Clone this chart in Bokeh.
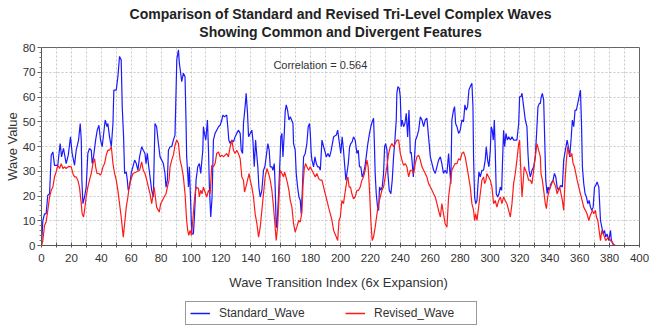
from bokeh.plotting import figure
from bokeh.layouts import column
from bokeh.models import Range1d, FixedTicker, Legend, LegendItem, Label
from bokeh.embed import file_html
from bokeh.resources import INLINE

# ---------------- data ----------------
std_index = [
    0, 0.9, 2, 3.1, 4.2, 5.4, 6.5, 7.6, 8.7, 10.9, 11.6, 12.5, 13.4, 14.7, 16.5, 17.9, 19.4, 20.5, 22.1, 23.2,
    24.8, 25.9, 26.6, 27, 27.7, 28.8, 29.9, 31, 32.1, 33.3, 33.9, 34.8, 36.2, 37.3, 38.4, 39.5, 40.6, 42.6, 43.8, 44.4,
    45.5, 46.7, 47.8, 48.4, 50, 51.1, 52.2, 53.3, 54, 54.9, 55.6, 56.7, 57.4, 58, 58.9, 60, 62.3, 63.4, 64.5, 65.6,
    67, 68.1, 69.2, 69.9, 70.8, 71.5, 72.6, 73.7, 74.8, 75.9, 77, 78.2, 79.3, 80.4, 81.5, 82.6, 83.3, 84.2, 84.9, 86,
    87.1, 88.2, 89.3, 90.5, 91.6, 92.2, 93.1, 93.8, 94.9, 96, 96.7, 97.1, 97.8, 98.3, 98.9, 99.8, 100.5, 101.6, 102.3, 103.4,
    104.5, 105.6, 106.5, 107.9, 108.3, 109, 109.9, 111, 111.7, 112.3, 113.2, 114.1, 115, 116.1, 117.2, 118.4, 119.5, 120.6, 121.3, 122.4,
    123.9, 124.6, 125.3, 126.2, 127.3, 128.4, 129.5, 130.6, 131.7, 132.9,
    133.6, 134.5, 135.1, 136.2, 136.9, 137.8, 138.5, 139.6, 140.7, 141.4, 142.3, 143.2, 144.1, 144.7, 145.4, 146.3, 147.4, 148.5, 149.4, 150.3,
    151.4, 152.3, 153, 154.1, 154.8, 155.7, 156.3, 157, 157.5, 158.6, 159.7, 160.1, 160.8, 161.5, 162.4, 163, 163.7, 164.6, 165.5, 166.4,
    167.3, 168.2, 168.6, 169.7, 170.4, 171.3, 172.2, 173.1, 173.7, 174.4, 175.3, 176.4, 177.5, 178.4, 179.3, 179.8, 180.4, 180.9, 182, 182.9,
    183.8, 184.7, 185.6, 186.5, 187.6, 188.7, 189.4, 190.5, 191.6, 192.7, 193.8, 195.4, 197.2, 198.1, 199, 199.9,
    200.2, 201.1, 202, 202.7, 203.6, 204.3, 205.2, 206.1, 206.9, 207.8, 208.7, 209.8, 211, 211.9, 212.7, 213.6, 214.5, 215.4, 216.3, 217.2,
    218.3, 219.4, 220.3, 221.2, 222.1, 222.6, 223.2, 223.9, 224.8, 225.5, 226.1, 227, 227.9, 228.8, 229.5, 230.2, 231.1, 231.7, 232.6, 233.7,
    234.6, 235.5, 236.4, 237.3, 237.7, 238.4, 239.3, 240, 240.6, 241.3, 242.2, 243.1, 244, 244.9, 245.8, 246.2, 246.7, 247.3, 248, 248.7,
    249.4, 250.2, 251.1, 252.3, 253.4, 254.5, 255.6, 256.7, 257.8, 258.9, 260.1, 261.2, 262.3, 263.4, 264.5, 265.6, 266.8,
    267.8, 268.9, 270, 271.2, 272.3, 272.9, 273.8, 274.5, 275.6, 276.3, 277, 277.9, 279, 280.1, 281.2, 282.3, 283.2, 284.1, 285, 285.9,
    286.8, 287.9, 288.6, 289, 289.7, 290.4, 291.3, 291.9, 292.6, 293.5, 294.6, 295.7, 296.8, 297.5, 298.4, 299.3, 300.2, 300.8, 301.5, 302.2,
    302.9, 303.5, 304.2, 305.1, 306, 306.9, 307.8, 308.4, 309.1, 309.8, 310.7, 311.6, 312.5, 313.6, 314.7, 315.8, 316.9, 318, 319.2, 319.8,
    320.7, 321.4, 322.5, 323.6, 324.7, 325.4, 326.1, 327, 328.1, 329.2, 330.3, 331.4, 332.1, 333, 333.7,
    334.1, 335, 335.9, 336.6, 337.3, 338.2, 338.8, 339.7, 340.8, 342.2, 343.1, 344, 344.9, 345.8, 346.6, 347.5, 348.4, 349.3, 350.4, 351.6,
    352.4, 353.3, 354.2, 355.1, 356, 356.9, 357.8, 358.7, 359.6, 360.5, 361.2, 361.8, 362.7, 363.6, 364.5, 365.4, 366.3, 367.2, 368.1, 369,
    369.9, 370.8, 371.6, 372.8, 373.9, 374.8, 375.7, 376.6, 377.4, 378.3, 379.5, 380.6, 381.2, 382.4, 383.3,
]
std_value = [
    0, 10.1, 12.8, 12.8, 20.3, 20.9, 36.5, 37.8, 32.4, 32.4, 36.5, 41.2, 35.8, 39.2, 33.1, 36.5, 43.9, 37.2, 32.4, 38.5,
    42.6, 49.3, 42.6, 26.4, 16.9, 19.6, 23.6, 37.2, 39.2, 38.5, 33.1, 35.8, 42.6, 46.6, 48.6, 42.6, 39.9, 50.7, 48, 49.3,
    43.9, 39.9, 49.3, 62.8, 62.8, 68.2, 76.4, 75, 56.1, 43.9, 29.1, 29.7, 26.4, 22.3, 23.6, 29.1, 34.5, 33.1, 30.4, 35.8,
    39.9, 38.5, 37.2, 33.1, 37.2, 33.1, 27.7, 22.3, 19.6, 49.3, 48, 41.2, 35.8, 34.5, 33.1, 29.1, 23.6, 26.4, 38.5, 39.9,
    39.9, 42.6, 44.6, 75, 79.1, 73.7, 69.6, 66.2, 69.6, 68.2, 49.3, 35.8, 29.1, 23.6, 31.8, 16.9, 4.7, 4.7, 11.5, 26.4,
    31.8, 33.1, 29.1, 38.5, 48, 45.3, 42.6, 50.7, 38.5, 23.6, 11.5, 19.6, 42.6, 45.3, 46.6, 48, 48.6, 50.7, 52.7, 52,
    52.7, 48, 42.6, 41.2, 42.6, 41.9, 43.9, 45.3, 46.6, 45.3,
    38.5, 37.2, 49.3, 56.1, 61.5, 53.4, 43.9, 45.3, 46.6, 42.6, 31.8, 42.6, 35.8, 31.8, 23.6, 19.6, 22.3, 30.4, 31.8, 35.8,
    41.2, 38.5, 31.8, 31.8, 30.4, 33.1, 23.6, 7.4, 7.4, 20.9, 37.2, 43.9, 45.3, 35.8, 45.3, 54.1, 56.8, 54.7, 50.7, 52,
    50.7, 49.3, 41.2, 38.5, 29.1, 23.6, 19.6, 18.2, 12.8, 20.9, 35.8, 37.2, 41.2, 48, 49.3, 45.3, 37.2, 34.5, 31.8, 35.8,
    33.1, 31.8, 31.8, 30.4, 42.6, 39.9, 38.5, 35.8, 37.2, 35.8, 38.5, 43.9, 44.6, 46.6, 42.6, 38.5,
    37.2, 43.9, 38.5, 33.1, 26.4, 29.1, 33.1, 39.9, 41.2, 41.9, 43.9, 42.6, 37.2, 38.5, 31.8, 31.8, 27.7, 29.1, 31.8, 35.8,
    41.2, 45.3, 48, 50, 51.4, 42.6, 29.1, 20.9, 15.5, 14.2, 23.6, 22.3, 23.6, 29.1, 39.9, 41.2, 38.5, 29.1, 22.3, 20.9,
    26.4, 35.8, 42.6, 50.7, 61.5, 64.2, 63.5, 60.1, 48, 50.7, 48, 49.3, 53.4, 43.9, 54.7, 48, 37.2, 37.8, 33.1, 27.7,
    34.5, 42.6, 43.9, 46.6, 52, 50.7, 48, 50.7, 51.4, 43.9, 35.8, 33.1, 30.4, 29.1, 31.8, 34.5, 35.8,
    33.1, 29.1, 30.4, 29.1, 37.2, 31.8, 25, 50.7, 54.7, 56.1, 49.3, 48, 45.3, 46.6, 50.7, 50, 56.8, 54.7, 56.1, 62.8,
    64.2, 65.5, 56.1, 35.8, 19.6, 16.9, 18.2, 24.3, 29.7, 27.7, 30.4, 30.4, 34.5, 39.9, 34.5, 31.8, 38.5, 48, 46.6, 42.6,
    50.7, 38.5, 20.9, 19.6, 20.9, 23.6, 22.3, 34.5, 46.6, 39.9, 45.3, 42.6, 43.9, 42.6, 43.9, 42.6, 42.6, 42.6, 49.3, 60.1,
    60.1, 61.5, 56.1, 50.7, 48, 37.2, 30.4, 27.7, 30.4, 31.8, 35.8, 48, 56.1, 57.4, 57.4,
    59.5, 61.5, 58.8, 42.6, 26.4, 20.9, 23.6, 22.3, 25, 26.4, 29.1, 27.7, 23.6, 22.3, 23.6, 24.3, 23.6, 34.5, 38.5, 42.6,
    39.9, 35.8, 42.6, 50.7, 48, 54.7, 54.7, 57.4, 60.1, 62.8, 49.3, 31.8, 25, 20.9, 19.6, 16.9, 18.2, 15.5, 14.2, 15.5,
    23.6, 24.3, 25.7, 23.6, 10.1, 7.4, 4.7, 6.1, 3.4, 4.7, 2, 6.1, 2, 0.4, 0,
]
rev_index = [
    0, 0.9, 2, 3.1, 4.2, 5.4, 6.5, 7.6, 8.7, 9.8, 10.9, 12.1, 13.2, 14.3, 15.4, 16.5, 18.3, 19.9, 21, 22.1,
    23.2, 24.3, 25.4, 26.6, 27.2, 28.1, 28.8, 29.9, 31, 32.1, 33.3, 34.4, 35.5, 36.2, 37.1, 38.4, 39.3, 40, 41.1, 42.2,
    43.3, 44.4, 45.5, 46.7, 47.8, 48.9, 50, 51.1, 52.2, 53.3, 54, 54.7, 55.6, 56.7, 57.8, 58.9, 61.2, 63.4, 65.6,
    67, 68.1, 69.2, 70.4, 71.5, 72.6, 73.7, 74.4, 75.3, 75.9, 77, 78.2, 78.8, 79.7, 80.9, 82, 83.3, 84.2, 85.3, 86,
    87.1, 88.2, 89.3, 90.5, 91.6, 92.7, 93.8, 94.9, 96, 97.1, 97.8, 98.5, 99.4, 100.3, 101.2, 102.1, 103, 103.8, 105, 105.6,
    106.5, 107.4, 108.3, 109.4, 110.5, 111.7, 112.8, 113.9, 115, 116.1, 117.2, 118.4, 119.5, 120.6, 121.7, 122.8, 123.9, 125, 126.2, 127.3,
    128.4, 129.5, 130.6, 131.7, 132.9,
    134, 135.1, 135.8, 136.7, 137.8, 138.9, 139.6, 140.7, 141.8, 142.9, 144.1, 145.2, 146.3, 147.4, 148.5, 149.6, 150.8, 151.9, 153, 154.1,
    155.2, 156.3, 157, 157.9, 158.8, 159.7, 160.8, 161.9, 162.6, 163.5, 164.6, 165.5, 166.4, 167.5, 168.6, 169.7, 170.8, 172, 173.1, 174.2,
    174.9, 175.8, 176.6, 177.5, 178.7, 179.8, 180.9, 182, 183.1, 184.2, 185.4, 186.5, 187.6, 188.7, 189.8, 190.9, 192, 193.2, 194.3, 195.4,
    197.2, 198.1, 199, 199.9,
    200.9, 202, 203.1, 204.3, 204.9, 205.8, 206.7, 207.6, 208.7, 209.8, 211, 212.1, 213.2, 214.3, 215.4, 216.5, 217.7, 218.5, 219.4, 220.3,
    221.2, 222.1, 223.2, 224.4, 225.5, 226.6, 227.7, 228.8, 229.9, 231, 232.2, 233.3, 234.4, 235.5, 236.6, 237.7, 238.9, 240, 241.1, 242.2,
    243.3, 244.4, 245.6, 246.7, 247.8, 248.9, 250, 251.1, 252.3, 253.4, 254.5, 255.6, 256.7, 257.8, 258.9, 260.1, 261.2, 262.3, 263.4, 264.5,
    265.6, 266.8,
    267.8, 268.9, 270, 271.2, 272.3, 273.4, 274.5, 275.6, 276.7, 277.9, 279, 280.1, 281.2, 282.3, 283.4, 284.6, 285.7, 286.8, 287.9, 289,
    289.7, 290.4, 291.3, 292.4, 293.5, 294.6, 295.7, 296.4, 297.3, 297.9, 299.1, 300.2, 301.3, 302.4, 303.5, 304.6, 305.8, 306.9, 308, 309.1,
    310.2, 311.3, 312.5, 313.6, 314.7, 315.8, 316.9, 318, 319.2, 319.8, 320.7, 321.4, 322.1, 322.9, 323.8, 324.7, 325.8, 327, 328.1, 329.2,
    330.3, 331.4, 332.5, 333.7,
    334.1, 335, 335.9, 337, 337.7, 338.6, 339.5, 340.4, 341.3, 342.2, 343.1, 344, 344.9, 345.8, 346.6, 347.5, 348.4, 349.3, 350.2, 351.1,
    352, 352.9, 353.8, 354.7, 355.6, 356.5, 357.4, 358.3, 359.4, 360.5, 361.6, 362.7, 363.8, 364.9, 366.1, 366.7, 367.6, 368.5, 369.4, 370.5,
    371.2, 372.1, 373, 373.9, 374.8, 375.7, 376.6, 377.4, 378.3, 379.5, 380.6, 381.7, 382.8, 383.9,
]
rev_value = [
    0, 2, 8.1, 9.5, 14.2, 19.6, 22.3, 23.6, 27.7, 29.7, 32.4, 31.1, 33.1, 31.1, 31.8, 31.1, 32, 31.8, 29.1, 27.7,
    27.7, 26.4, 23.6, 16.9, 12.8, 11.5, 14.2, 19.6, 23.6, 26.4, 29.1, 33.1, 35.1, 31.8, 29.1, 29.1, 28.4, 29.1, 31.8, 33.1,
    36.5, 38.5, 38.5, 39.9, 33.1, 29.1, 26.4, 22.3, 16.9, 11.5, 7.4, 3.4, 8.8, 15.5, 19.6, 25, 29.1, 29.7, 30.4,
    33.8, 30.4, 29.1, 26.4, 23.6, 20.9, 16.9, 19.6, 23.6, 20.9, 15.5, 14.2, 13.5, 16.9, 18.2, 19.6, 20.9, 23.6, 26.4, 31.8,
    34.5, 36.5, 40.5, 42.6, 41.2, 34.5, 31.8, 27.7, 20.9, 10.1, 6.1, 4.1, 6.1, 4.1, 10.1, 16.9, 22.3, 23.6, 23, 19.6,
    22.3, 20.9, 23.6, 21.6, 19.6, 22.3, 20.9, 32.4, 31.8, 33.1, 37.2, 37.8, 35.8, 36.5, 35.8, 36.5, 37.2, 35.8, 39.9, 42.6,
    38.5, 37.2, 38.5, 37.2, 35.1,
    27.7, 26.4, 21.6, 23.6, 26.4, 29.1, 26.4, 23.6, 19.6, 12.8, 8.8, 3.4, 7.4, 14.2, 20.9, 27.7, 31.1, 29.1, 26.4, 22.3,
    15.5, 7.4, 2, 7.4, 18.2, 30.4, 29.1, 27.7, 29.7, 27.7, 25, 22.3, 18.2, 15.5, 8.8, 5.4, 7.4, 10.1, 9.5, 13.5,
    24.3, 31.1, 33.1, 31.8, 30.4, 31.8, 30.4, 29.1, 27.7, 29.1, 27, 26.4, 26.4, 23.6, 20.9, 18.2, 15.5, 12.8, 10.1, 6.1,
    3.4, 2, 10.1, 11.5,
    18.2, 16.9, 21.6, 26.4, 27.7, 23.6, 23.6, 20.9, 18.9, 19.6, 22.3, 22.3, 23.6, 26.4, 27.7, 30.4, 34.5, 31.8, 22.3, 10.1,
    2, 3.4, 7.4, 12.8, 16.9, 19.6, 22.3, 23.6, 27.7, 31.8, 37.2, 39.9, 41.2, 39.9, 41.2, 42.6, 42.6, 37.2, 34.5, 32.4,
    33.1, 31.8, 27.7, 30.4, 30.4, 29.1, 33.1, 35.8, 36.5, 34.5, 31.8, 30.4, 29.1, 27.7, 25, 23.6, 22.3, 20.9, 19.6, 16.9,
    14.2, 11.5,
    16.9, 12.8, 8.8, 7.4, 19.6, 25, 30.4, 31.8, 33.1, 33.1, 35.1, 34.5, 37.2, 37.8, 35.8, 31.8, 27.7, 23.6, 16.9, 14.2,
    10.1, 12.8, 10.1, 15.5, 20.9, 26.4, 27.7, 25, 26.4, 29.1, 27.7, 26.4, 23.6, 16.9, 18.2, 15.5, 18.2, 19.6, 16.9, 19.6,
    18.2, 16.9, 14.2, 11.5, 16.9, 25, 29.1, 34.5, 41.2, 42.6, 29.1, 19.6, 25, 31.8, 30.4, 29.1, 26.4, 26.4, 25, 30.4,
    35.8, 41.2, 38.5, 35.8,
    29.1, 26.4, 22.3, 16.9, 14.9, 19.6, 22.3, 23.6, 25, 26.4, 25, 23.6, 20.9, 22.3, 23.6, 20.9, 18.2, 14.2, 26.4, 34.5,
    39.9, 37.2, 35.8, 37.2, 33.1, 31.8, 29.1, 26.4, 23.6, 20.9, 18.2, 15.5, 14.2, 12.8, 10.1, 11.5, 12.8, 14.2, 12.8, 14.2,
    11.5, 10.1, 6.1, 2, 6.1, 4.7, 3.4, 2, 2.7, 3.4, 2, 1.4, 0.4, 0,
]

series_names = ["Standard_Wave", "Revised_Wave"]
series_colors = ["#1a1aff", "#ff1a1a"]
x_ticks = list(range(0, 401, 10))
x_labeled = list(range(0, 401, 20))
y_ticks = list(range(0, 81, 10))
y_minor = list(range(0, 81, 2))
title_line1 = "Comparison of Standard and Revised Tri-Level Complex Waves"
title_line2 = "Showing Common and Divergent Features"
x_title = "Wave Transition Index  (6x Expansion)"
y_title = "Wave Value"
note_text = "Correlation = 0.564"
note_x, note_y = 186.5, 73

assert len(std_index) == len(std_value)
assert len(rev_index) == len(rev_value)

FONT = "Liberation Sans"
TXT = "#333333"


def bare_strip(height):
    f = figure(width=650, height=height, output_backend="svg", toolbar_location=None,
               x_range=Range1d(0, 1), y_range=Range1d(0, height),
               x_axis_type=None, y_axis_type=None, min_border=0)
    f.outline_line_color = None
    f.background_fill_color = "white"
    f.border_fill_color = "white"
    f.xgrid.visible = False
    f.ygrid.visible = False
    return f


# ---- title strip ----
pt = bare_strip(40)
for txt, ypos in ((title_line1, 27), (title_line2, 9)):
    pt.add_layout(Label(x=0.5, y=ypos, text=txt, text_align="center", text_baseline="middle",
                        text_font=FONT, text_font_size="14px", text_font_style="bold",
                        text_color="#222222"))

# ---- main chart ----
p = figure(width=650, height=260, output_backend="svg", toolbar_location=None,
           x_range=Range1d(0, 400), y_range=Range1d(0, 80),
           min_border_left=41, min_border_right=11, min_border_top=7, min_border_bottom=55)
p.background_fill_color = "white"
p.border_fill_color = "white"
p.outline_line_color = "#666666"
p.outline_line_width = 1

xa = p.xaxis[0]
xa.ticker = FixedTicker(ticks=x_ticks)
xa.major_label_overrides = {t: ("" if t not in x_labeled else str(t)) for t in x_ticks}
xa.major_tick_in = 3
xa.major_tick_out = 2
xa.axis_label = x_title
xa.axis_label_standoff = 10
xa.major_label_standoff = 6

ya = p.yaxis[0]
ya.ticker = FixedTicker(ticks=y_ticks, minor_ticks=y_minor)
ya.major_tick_in = 0
ya.major_tick_out = 4
ya.minor_tick_in = 0
ya.minor_tick_out = 2
ya.axis_label = y_title
ya.axis_label_standoff = 0
ya.major_label_standoff = 2

for ax in (xa, ya):
    ax.axis_line_color = "#555555"
    ax.major_tick_line_color = "#555555"
    ax.major_label_text_font = FONT
    ax.major_label_text_font_size = "11.5px"
    ax.major_label_text_color = TXT
    ax.axis_label_text_font = FONT
    ax.axis_label_text_font_size = "13px"
    ax.axis_label_text_font_style = "normal"
    ax.axis_label_text_color = TXT
xa.minor_tick_line_color = None
ya.minor_tick_line_color = "#777777"

for g in (p.xgrid[0], p.ygrid[0]):
    g.grid_line_color = "#c8c8c8"
    g.grid_line_dash = "2 2"
    g.grid_line_width = 1

r_std = p.line(std_index, std_value, line_color=series_colors[0], line_width=1.2)
r_rev = p.line(rev_index, rev_value, line_color=series_colors[1], line_width=1.2)

p.add_layout(Label(x=note_x, y=note_y, text=note_text, text_align="center", text_baseline="middle",
                   text_font=FONT, text_font_size="11px", text_color=TXT))

# ---- legend strip under the chart ----
pl = bare_strip(27)
# off-range stand-in renderers that only carry the legend swatch styles
l_std = pl.line(x=[2, 3], y=[-50, -50], line_color=series_colors[0], line_width=1.5)
l_rev = pl.line(x=[2, 3], y=[-50, -50], line_color=series_colors[1], line_width=1.5)

legend = Legend(items=[LegendItem(label=series_names[0], renderers=[l_std]),
                       LegendItem(label=series_names[1], renderers=[l_rev])],
                orientation="horizontal", location=(144, 2),
                padding=4, spacing=28, margin=0,
                glyph_width=20, glyph_height=14, label_height=14, label_width=98,
                label_standoff=9,
                label_text_font=FONT, label_text_font_size="12px", label_text_color=TXT,
                border_line_color="#333333", border_line_width=1,
                background_fill_color="white", background_fill_alpha=1)
pl.add_layout(legend, "center")

layout = column(pt, p, pl, spacing=0)
open("out.html", "w").write(file_html(layout, INLINE))
